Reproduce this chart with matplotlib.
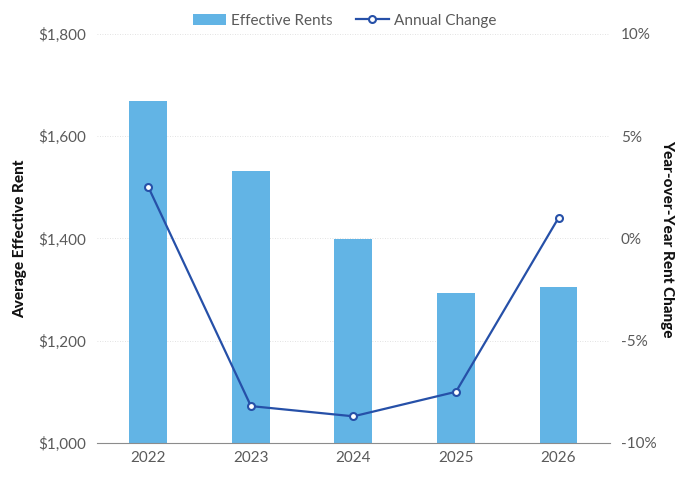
import matplotlib.pyplot as plt
from matplotlib.ticker import FuncFormatter

years = ["2022", "2023", "2024", "2025", "2026"]
effective_rents = [1669, 1532, 1399, 1293, 1305]
annual_change = [2.5, -8.2, -8.7, -7.5, 1.0]

bar_color = "#62b4e5"
line_color = "#2650a8"
tick_color = "#5a5a5a"

plt.rcParams["font.family"] = ["Lato", "DejaVu Sans"]

fig = plt.figure(figsize=(6.89, 4.83), dpi=100)
ax = fig.add_axes([0.141, 0.083, 0.744, 0.847])
ax2 = ax.twinx()

x = range(len(years))
bars = ax.bar(x, effective_rents, width=0.37, color=bar_color, zorder=2,
              label="Effective Rents")
line, = ax2.plot(x, annual_change, color=line_color, linewidth=1.6,
                 marker="o", markersize=5, markerfacecolor="white",
                 markeredgecolor=line_color, markeredgewidth=1.5,
                 label="Annual Change", zorder=3)

ax.set_xlim(-0.5, len(years) - 0.5)
ax.set_ylim(1000, 1800)
ax.set_yticks([1000, 1200, 1400, 1600, 1800])
ax.yaxis.set_major_formatter(FuncFormatter(lambda v, p: f"${v:,.0f}"))
ax2.set_ylim(-10, 10)
ax2.set_yticks([-10, -5, 0, 5, 10])
ax2.yaxis.set_major_formatter(FuncFormatter(lambda v, p: f"{v:.0f}%"))

ax.set_xticks(list(x))
ax.set_xticklabels(years)

ax.grid(axis="y", color="#d9d9d9", linestyle=(0, (1, 2)), linewidth=0.6, zorder=0)
ax.set_axisbelow(True)

for a in (ax, ax2):
    for s in ("top", "left", "right"):
        a.spines[s].set_visible(False)
    a.spines["bottom"].set_color("#8c8c8c")
    a.tick_params(colors=tick_color, labelsize=11, length=0, pad=8)
ax2.spines["bottom"].set_visible(False)
ax.tick_params(axis="x", pad=6)

ax.set_ylabel("Average Effective Rent", fontsize=11, fontweight="black",
              color="#111111", labelpad=8)
ax2.set_ylabel("Year-over-Year Rent Change", fontsize=11, fontweight="black",
               color="#111111", rotation=270, labelpad=13)

ax2.set_zorder(ax.get_zorder() + 1)
ax2.patch.set_visible(False)

fig.legend([bars, line], ["Effective Rents", "Annual Change"], loc="upper center",
           bbox_to_anchor=(0.5, 1.0), ncol=2, frameon=False, fontsize=11,
           labelcolor=tick_color, handlelength=2.2, handletextpad=0.3,
           columnspacing=1.5)

fig.savefig("out.png", dpi=100)
